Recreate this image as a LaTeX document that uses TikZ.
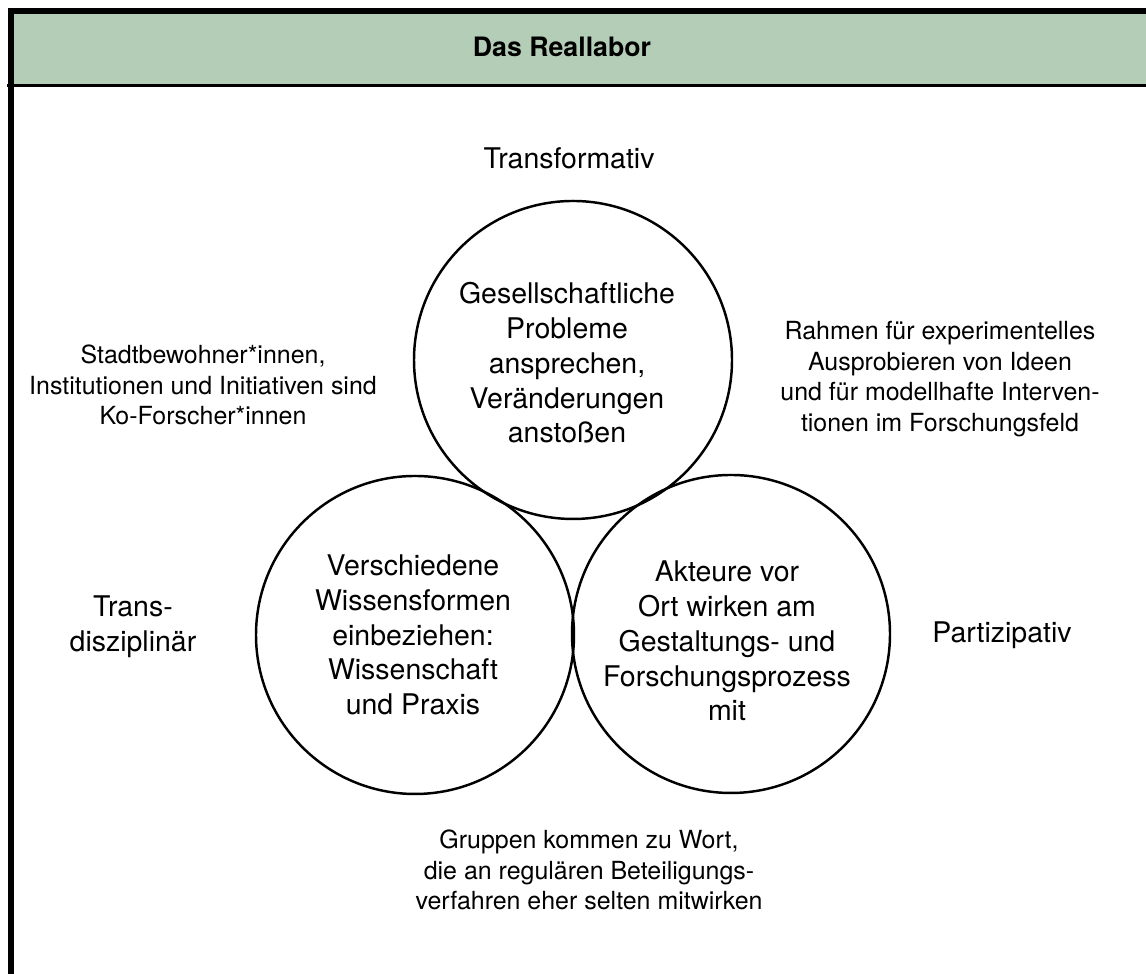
\documentclass[tikz,border=0pt]{standalone}
\usepackage{fontspec}
\setmainfont{TeX Gyre Heros}
\definecolor{headgreen}{RGB}{179,205,182}
\tikzset{
  ring/.style={circle,draw,line width=0.7pt,minimum size=3.18cm,inner sep=0pt},
  bubbletext/.style={align=center,font=\fontsize{8.1}{9.9}\selectfont},
  sidetext/.style={align=center,font=\fontsize{7.1}{8.7}\selectfont},
}
\begin{document}
\begin{tikzpicture}
\useasboundingbox (0,0) rectangle (11.46,9.74);
\clip (0,0) rectangle (11.46,9.74);
% header band and frame
\fill[headgreen] (0.11,8.885) rectangle (11.6,9.63);
\draw[line width=0.85pt] (0.07,8.885) -- (11.6,8.885);
\draw[line width=1.45pt] (0.11,-0.1) -- (0.11,9.63) -- (11.6,9.63);
\node[font=\fontsize{7.6}{9}\selectfont\bfseries] (title) at (5.62,9.27) {Das Reallabor};

% the three circles
\node[ring] (top) at (5.73,6.14) {};
\node[ring] (left) at (4.15,3.39) {};
\node[ring] (right) at (7.31,3.40) {};

\node[bubbletext] (toptext) at (5.67,6.11) {Gesellschaftliche\\Probleme\\ansprechen,\\Veränderungen\\anstoßen};
\node[bubbletext] (lefttext) at (4.13,3.39) {Verschiedene\\Wissensformen\\einbeziehen:\\Wissenschaft\\und Praxis};
\node[bubbletext] (righttext) at (7.27,3.33) {Akteure vor\\Ort wirken am\\Gestaltungs- und\\Forschungsprozess\\mit};

% labels round the circles
\node[bubbletext] (transf) at (5.69,8.16) {Transformativ};
\node[bubbletext] (transd) at (1.33,3.47) {Trans-\\disziplinär};
\node[bubbletext] (partiz) at (10.02,3.39) {Partizipativ};

\node[sidetext] (akteure) at (2.03,5.89) {Stadtbewohner*innen,\\Institutionen und Initiativen sind\\Ko-Forscher*innen};
\node[sidetext] (rahmen) at (9.40,5.95) {Rahmen für experimentelles\\Ausprobieren von Ideen\\und für modellhafte Interven-\\tionen im Forschungsfeld};
\node[sidetext] (gruppen) at (5.89,1.04) {Gruppen kommen zu Wort,\\die an regulären Beteiligungs-\\verfahren eher selten mitwirken};
\end{tikzpicture}
\end{document}
